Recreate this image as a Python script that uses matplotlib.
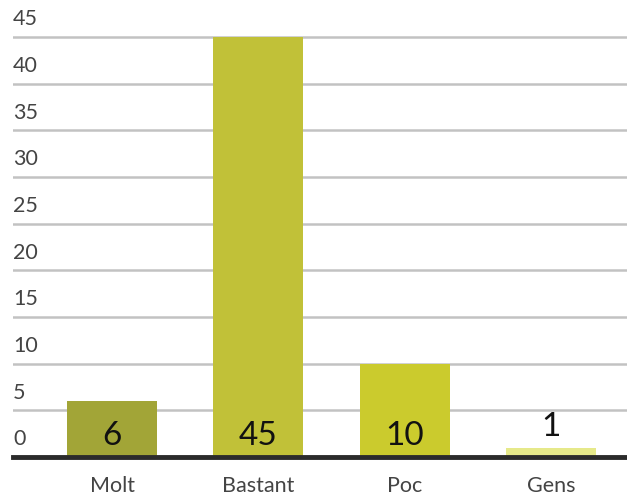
"""Bar chart: response counts per category."""

import matplotlib
matplotlib.use("Agg")
import matplotlib.pyplot as plt
import matplotlib.transforms as mtransforms

# Data
categories = ["Molt", "Bastant", "Poc", "Gens"]
values = [6, 45, 10, 1]
y_ticks = [0, 5, 10, 15, 20, 25, 30, 35, 40, 45]

BAR_COLORS = ["#a2a537", "#c1c138", "#cbcb2d", "#e6e98a"]
GRID_COLOR = "#c2c2c2"
BASE_COLOR = "#2b2b2b"
TEXT_COLOR = "#444444"

plt.rcParams["font.family"] = ["Lato", "DejaVu Sans"]

W, H, DPI = 627, 497, 100
fig = plt.figure(figsize=(W / DPI, H / DPI), dpi=DPI)

# axes placement in pixels
left_px, right_px = 13, 627
base_px = 457
unit_px = (457 - 37) / 45
y_max = 47
top_px = base_px - y_max * unit_px
ax = fig.add_axes([left_px / W, (H - base_px) / H,
                   (right_px - left_px) / W, (base_px - top_px) / H])

x = list(range(len(categories)))
spacing = 146.3
ax.bar(x, values, width=90 / spacing, color=BAR_COLORS, zorder=3)
ax.set_xlim((left_px - 112) / spacing, (right_px - 112) / spacing)
ax.set_ylim(0, y_max)

# gridlines
for v in y_ticks[1:]:
    ax.axhline(v, color=GRID_COLOR, linewidth=1.8, zorder=1)
ax.axhline(0, color=BASE_COLOR, linewidth=3.5, zorder=4, clip_on=False)

# y tick labels sit above their gridline
trans = mtransforms.blended_transform_factory(ax.transAxes, ax.transData)
lift = mtransforms.ScaledTranslation(0, 5.5 / 72, fig.dpi_scale_trans)
for v in y_ticks:
    ax.text(0, v, str(v), transform=trans + lift, ha="left", va="bottom",
            fontsize=15.5, color=TEXT_COLOR)

# value labels
val_lift = mtransforms.ScaledTranslation(0, 4 / 72, fig.dpi_scale_trans)
for xi, v in zip(x, values):
    y = 0 if v >= 3 else v
    ax.text(xi, y, str(v), transform=ax.transData + val_lift,
            ha="center", va="bottom", fontsize=24, color="#111111", zorder=5)

ax.set_xticks(x)
ax.set_xticklabels(categories, fontsize=15.5, color=TEXT_COLOR)
ax.tick_params(axis="x", length=0, pad=14)
ax.set_yticks([])
for s in ax.spines.values():
    s.set_visible(False)

fig.savefig("out.png", dpi=DPI, facecolor="white")
